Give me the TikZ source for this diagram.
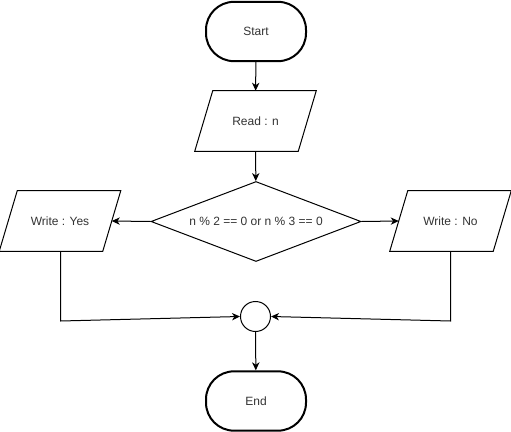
\documentclass[tikz,border=0pt]{standalone}
\usepackage{fontspec}
\setmainfont{Liberation Sans}
\usetikzlibrary{shapes.geometric,arrows.meta}
\begin{document}
\begin{tikzpicture}[x=0.75pt,y=-0.75pt,
  every node/.style={font=\fontsize{9}{11}\selectfont, text=black!80, inner sep=0pt},
  term/.style={draw, line width=1.5pt, rectangle, rounded corners=21pt, minimum width=75pt, minimum height=44.5pt},
  io/.style={rectangle, minimum width=77.25pt, minimum height=45pt},
  iobox/.style={draw, line width=0.75pt, line join=miter},
  decide/.style={draw, line width=0.75pt, diamond, aspect=2.625, minimum width=157.5pt, minimum height=60pt},
  joint/.style={draw, line width=0.75pt, circle, minimum size=22.5pt},
  conn/.style={line width=0.75pt, -{Stealth[length=6pt,width=5.5pt,inset=1.8pt]}}]
\useasboundingbox (0,0) rectangle (511,432);
\node[term] (start) at (256,31.5) {Start};
\node[io] (read) at (255.5,121) {Read : n};
\node[decide] (dec) at (256,221.5) {n \% 2 == 0 or n \% 3 == 0};
\node[io] (wy) at (60,221) {Write : Yes};
\node[io] (wn) at (450.5,221) {Write : No};
\node[joint] (j) at (255.5,316.5) {};
\node[term] (end) at (256,401) {End};
\foreach \n in {read,wy,wn}{
  \draw[iobox] ([xshift=6.75pt]\n.north west) -- ([xshift=6.75pt]\n.north east)
     -- ([xshift=-6.75pt]\n.south east) -- ([xshift=-6.75pt]\n.south west) -- cycle;
}
\coordinate (jy) at (60.5,321);
\coordinate (jn) at (450.5,321);
\draw[conn] (start) -- (read);
\draw[conn] (read) -- (dec);
\draw[conn] (dec.west) -- (wy.east);
\draw[conn] (dec.east) -- (wn.west);
\draw[conn] (wy.south -| jy) -- (jy) -- (j.west);
\draw[conn] (wn.south -| jn) -- (jn) -- (j.east);
\draw[conn] (j) -- (end);
\end{tikzpicture}
\end{document}
